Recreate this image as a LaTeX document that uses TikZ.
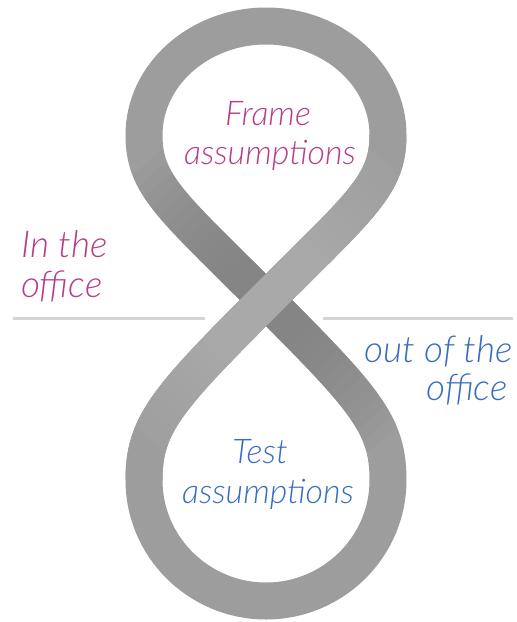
\documentclass[tikz,border=0pt]{standalone}
\usepackage{fontspec}
\newfontfamily\hand{Lato}[UprightFont={* Light Italic}]
\definecolor{magtext}{HTML}{B73E86}
\definecolor{bluetext}{HTML}{3A6DBF}
\definecolor{bandmid}{HTML}{9D9D9D}
\definecolor{banddark}{HTML}{7E7E7E}
\definecolor{bandlight}{HTML}{B4B4B4}
\definecolor{rule}{HTML}{D4D4D4}
\begin{document}
\begin{tikzpicture}[x=1pt,y=-1pt,
  band/.style={line width=37pt},
  lbl/.style={font=\hand\fontsize{34}{34}\selectfont, inner sep=0pt},
  sidelbl/.style={font=\hand\fontsize{37}{37}\selectfont, inner sep=0pt},
  rulestyle/.style={draw=rule, line width=3pt}]
\useasboundingbox (0,0) rectangle (517,622);
\coordinate (C) at (266,300);
\coordinate (R1) at (388,135);
\coordinate (T) at (266,26);
\coordinate (L1) at (144,135);
\coordinate (R2) at (388,480);
\coordinate (B) at (266,601);
\coordinate (L2) at (144,480);
% horizontal rules
\coordinate (hl1) at (13,318); \coordinate (hl2) at (205,318);
\coordinate (hr1) at (323,318); \coordinate (hr2) at (513,318);
\draw[rulestyle] (hl1) -- (hl2);
\draw[rulestyle] (hr1) -- (hr2);
% full figure eight
\draw[band, draw=bandmid]
  (C) .. controls (361,205) and (388,185) .. (R1)
      .. controls (388,75) and (333,26) .. (T)
      .. controls (199,26) and (144,75) .. (L1)
      .. controls (144,185) and (171,205) .. (C)
      .. controls (366,400) and (388,425) .. (R2)
      .. controls (388,547) and (333,601) .. (B)
      .. controls (199,601) and (144,547) .. (L2)
      .. controls (144,425) and (166,400) .. cycle;
% back strand (darker towards the crossing)
\foreach \rr in {50,62,...,182} {
  \begin{scope}
    \clip (C) circle (\rr);
    \draw[band, draw=banddark, opacity=0.09]
      (L1) .. controls (144,185) and (171,205) .. (C)
           .. controls (366,400) and (388,425) .. (R2);
  \end{scope}
}
% front strand (lighter towards the crossing)
\draw[band, draw=bandmid]
  (L2) .. controls (144,425) and (166,400) .. (C)
       .. controls (361,205) and (388,185) .. (R1);
\foreach \rr in {50,62,...,182} {
  \begin{scope}
    \clip (C) circle (\rr);
    \draw[band, draw=bandlight, opacity=0.09]
      (L2) .. controls (144,425) and (166,400) .. (C)
           .. controls (361,205) and (388,185) .. (R1);
  \end{scope}
}
% labels
\node[lbl, text=magtext, anchor=base] (frame) at (268,125) {Frame};
\node[lbl, text=magtext, anchor=base] (fass) at (270,164) {assumptions};
\node[lbl, text=bluetext, anchor=base] (test) at (260,463) {Test};
\node[lbl, text=bluetext, anchor=base] (tass) at (268,503) {assumptions};
\node[sidelbl, text=magtext, anchor=base west] (inthe) at (21,257) {In the};
\node[sidelbl, text=magtext, anchor=base west] (inoff) at (21,297) {office};
\node[sidelbl, text=bluetext, anchor=base east] (outof) at (513,362) {out of the};
\node[sidelbl, text=bluetext, anchor=base east] (outoff) at (508,400) {office};
\end{tikzpicture}
\end{document}
